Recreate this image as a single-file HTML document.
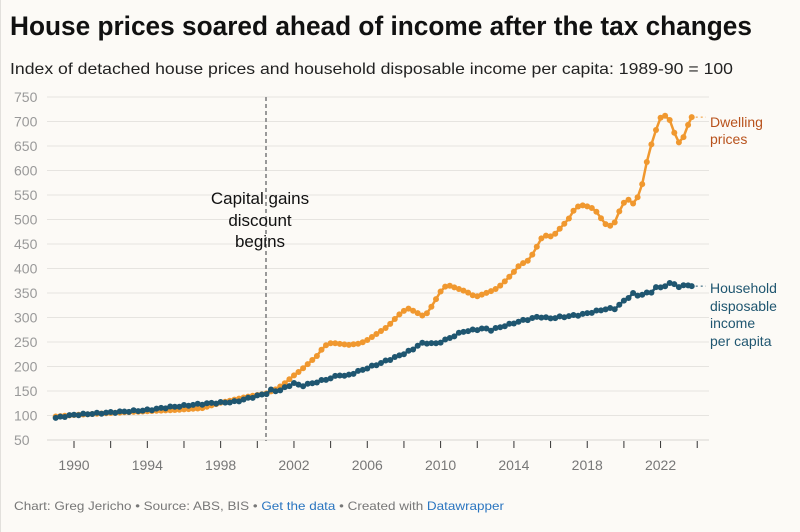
<!DOCTYPE html>
<html><head><meta charset="utf-8"><style>
html,body{margin:0;padding:0;background:#fcfaf6;}
svg{display:block;font-family:"Liberation Sans",sans-serif;}
</style></head><body>
<svg id="c" width="800" height="532" viewBox="0 0 800 532" xmlns="http://www.w3.org/2000/svg">
<rect width="800" height="532" fill="#fcfaf6"/>
<rect x="0" y="0" width="1" height="532" fill="#e2e0dc"/>
<text x="10" y="35" font-size="27" font-weight="bold" fill="#111" textLength="742" lengthAdjust="spacingAndGlyphs">House prices soared ahead of income after the tax changes</text>
<text x="10" y="74" font-size="16" fill="#222" textLength="723" lengthAdjust="spacingAndGlyphs">Index of detached house prices and household disposable income per capita: 1989-90 = 100</text>
<g id="grid"></g>
<g id="series"></g>
<text x="260" y="204" font-size="17" fill="#111" text-anchor="middle">Capital gains</text>
<text x="260" y="226" font-size="17" fill="#111" text-anchor="middle">discount</text>
<text x="260" y="247" font-size="17" fill="#111" text-anchor="middle">begins</text>
<g font-size="14" fill="#b8521c">
<text x="710" y="127">Dwelling</text><text x="710" y="144">prices</text></g>
<g font-size="14" fill="#1f5670">
<text x="710" y="293">Household</text><text x="710" y="311">disposable</text><text x="710" y="328">income</text><text x="710" y="346">per capita</text></g>
<text x="14" y="510" font-size="12" fill="#777" textLength="490" lengthAdjust="spacingAndGlyphs">Chart: Greg Jericho • Source: ABS, BIS • <tspan fill="#2a75c0">Get the data</tspan> • Created with <tspan fill="#2a75c0">Datawrapper</tspan></text>
</svg>
<script>
var NS="http://www.w3.org/2000/svg";
function el(t,a,p){var e=document.createElementNS(NS,t);for(var k in a)e.setAttribute(k,a[k]);p.appendChild(e);return e;}
function X(yr){return 74+(yr-1990)*18.33;}
function Y(v){return 415.5-(v-100)*24.5/50;}
var g=document.getElementById('grid');
for(var v=50;v<=750;v+=50){var y=Y(v);
 el('line',{x1:47,x2:709,y1:y,y2:y,stroke:v==50?'#d8d6d2':'#e6e4e0','stroke-width':1},g);
 var t=el('text',{x:14,y:y+5,'font-size':14,fill:'#999'},g);t.textContent=v;}
for(var yr=1990;yr<=2024;yr+=2){var x=X(yr);el('line',{x1:x,x2:x,y1:441,y2:448,stroke:'#333','stroke-width':1},g);
 if((yr-1990)%4==0&&yr<2024){var t=el('text',{x:x,y:470,'font-size':14,fill:'#777','text-anchor':'middle'},g);t.textContent=yr;}}
el('line',{x1:266,x2:266,y1:97,y2:441,stroke:'#999','stroke-width':2,'stroke-dasharray':'4,3'},g);
var D=[[1989,98],[1990,101],[1991.4,104],[1993.6,108],[1995.4,111],[1997,115],[1997.9,125],[1999.4,138],[2000.5,145],[2001.1,155],[2001.5,166],[2001.9,179],[2002.4,193],[2002.9,210],[2003.3,223],[2003.6,240],[2003.9,247],[2004.1,248],[2005,244],[2005.6,247],[2006,254],[2006.4,264],[2007.1,281],[2007.7,305],[2008.2,319],[2008.6,312],[2009.1,302],[2009.4,315],[2009.6,329],[2009.9,346],[2010.1,360],[2010.4,366],[2011.4,353],[2011.9,342],[2012.7,353],[2013.1,360],[2013.6,377],[2014.1,397],[2014.3,407],[2014.8,417],[2015.1,434],[2015.4,455],[2015.6,468],[2016.1,465],[2016.6,485],[2017,502],[2017.2,516],[2017.6,530],[2018.2,525],[2018.6,513],[2018.9,492],[2019.4,485],[2019.9,530],[2020.2,543],[2020.45,530],[2020.9,553],[2021.15,601],[2021.4,642],[2021.7,676],[2021.9,703],[2022.15,715],[2022.5,703],[2022.8,672],[2022.95,656],[2023.2,663],[2023.45,689],[2023.7,709]];
var H=[[1989,95],[1989.9,101],[1991.1,104],[1994,111],[1995.2,117],[1997.4,125],[1998.8,128],[1999.6,136],[2000.5,145],[2000.8,153],[2001.1,149],[2002,166],[2002.4,160],[2004,176],[2004.5,183],[2004.8,180],[2006.8,208],[2007.8,223],[2008.6,237],[2008.9,249],[2009.1,245],[2009.4,251],[2009.6,244],[2010.5,258],[2011.2,271],[2012.4,278],[2012.7,274],[2014.2,291],[2015.4,302],[2015.9,298],[2017.7,306],[2019.2,319],[2019.4,315],[2020.5,349],[2020.9,342],[2021.1,353],[2021.4,346],[2021.7,363],[2022,360],[2022.6,372],[2022.9,363],[2023.6,366],[2023.7,365]];
function interp(P,t){if(t<=P[0][0])return P[0][1];for(var i=1;i<P.length;i++){if(t<=P[i][0]){var a=P[i-1],b=P[i];return a[1]+(b[1]-a[1])*(t-a[0])/(b[0]-a[0]);}}return P[P.length-1][1];}
var s=document.getElementById('series');
function draw(P,col,noise){var pts=[];for(var q=0;q<=139;q++){var t=1989+q*0.25;if(t>2023.7)t=2023.7;var v=interp(P,t)+(noise?Math.sin(q*2.3)*noise:0);pts.push([X(t),Y(v)]);}
 el('polyline',{points:pts.map(function(p){return p[0].toFixed(1)+','+p[1].toFixed(1)}).join(' '),fill:'none',stroke:col,'stroke-width':2.5},s);
 pts.forEach(function(p){el('circle',{cx:p[0].toFixed(1),cy:p[1].toFixed(1),r:3,fill:col},s);});return pts[pts.length-1];}
var e1=draw(D,'#f0982f',0);
var e2=draw(H,'#1f5670',1.5);
el('line',{x1:e1[0]+4,x2:706,y1:e1[1],y2:e1[1],stroke:'#f0982f','stroke-width':1,'stroke-dasharray':'2,3'},s);
el('line',{x1:e2[0]+4,x2:706,y1:e2[1],y2:e2[1],stroke:'#1f5670','stroke-width':1,'stroke-dasharray':'2,3'},s);
</script>
</body></html>
